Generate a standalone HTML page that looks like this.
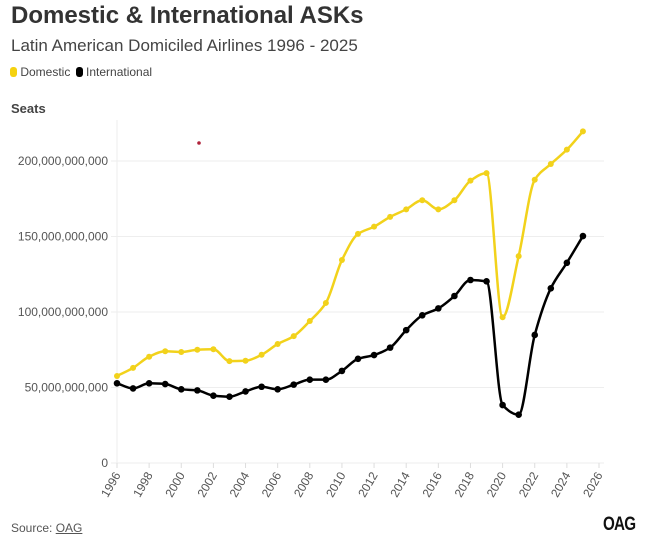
<!DOCTYPE html>
<html><head><meta charset="utf-8"><style>
body{margin:0;background:#fff;font-family:"Liberation Sans",sans-serif;}
#wrap{position:relative;width:664px;height:548px;overflow:hidden;}
.t{position:absolute;white-space:nowrap;}
</style></head><body>
<div id="wrap">
<div class="t" style="left:11px;top:2px;font-size:24px;font-weight:bold;color:#333;">Domestic &amp; International ASKs</div>
<div class="t" style="left:11px;top:36px;font-size:17px;color:#444;">Latin American Domiciled Airlines 1996 - 2025</div>
<div style="position:absolute;left:10px;top:65px;font-size:12px;color:#444;">
 <span><span style="display:inline-block;width:7px;height:10px;background:#f5d20f;border-radius:3px;vertical-align:-1px;"></span> Domestic</span>
 <span style="margin-left:2px;"><span style="display:inline-block;width:7px;height:10px;background:#000;border-radius:3px;vertical-align:-1px;"></span> International</span>
</div>
<div class="t" style="left:11px;top:101px;font-size:13px;font-weight:bold;color:#444;">Seats</div>
<svg id="chart" width="664" height="548" style="position:absolute;left:0;top:0;"></svg>
<div class="t" style="left:11px;top:521px;font-size:12px;color:#555;">Source: <span style="text-decoration:underline;">OAG</span></div>
<div class="t" style="left:603px;top:514px;font-size:19px;font-weight:bold;color:#111;letter-spacing:-1px;transform:scaleX(0.8);transform-origin:left;">OAG</div>
</div>
<script>
const years=[1996,1997,1998,1999,2000,2001,2002,2003,2004,2005,2006,2007,2008,2009,2010,2011,2012,2013,2014,2015,2016,2017,2018,2019,2020,2021,2022,2023,2024,2025];
const domestic=[57.6,63,70.4,74,73.5,75,75.3,67.5,67.7,71.7,78.8,84,94,106,134.4,151.7,156.5,163,168,174,168,174,187,192,96.5,137,187.6,198,207.5,219.6];
const international=[52.8,49.4,52.8,52.3,48.8,48.1,44.6,43.9,47.4,50.5,48.8,51.9,55.2,55.2,61,69,71.5,76.4,88,97.8,102.4,110.6,121.2,120.3,38.4,32,84.8,115.7,132.6,150.3];
const yTicks=[0,50,100,150,200];
const yTickLabels=["0","50,000,000,000","100,000,000,000","150,000,000,000","200,000,000,000"];
const xTicks=[1996,1998,2000,2002,2004,2006,2008,2010,2012,2014,2016,2018,2020,2022,2024,2026];

const NS="http://www.w3.org/2000/svg";
const svg=document.getElementById('chart');
const X0=117,X1=599,Y0=463,Y200=161;
const xs=y=>X0+(y-1996)*(X1-X0)/30;
const ys=v=>Y0-v*(Y0-Y200)/200;
function mk(tag,attrs){const e=document.createElementNS(NS,tag);for(const k in attrs)e.setAttribute(k,attrs[k]);svg.appendChild(e);return e;}

const ax=mk('line',{x1:X0,x2:X0,y1:120,y2:Y0,stroke:'#eee','stroke-width':1});


yTicks.forEach((v,i)=>{
 const g=mk('line',{x1:X0-6,x2:604,y1:ys(v),y2:ys(v),stroke:'#eee','stroke-width':1});
 
 
 const t=mk('text',{x:108,y:ys(v)+4,'text-anchor':'end','font-size':12,fill:'#555','font-family':'Liberation Sans, sans-serif'});
 t.textContent=yTickLabels[i];
 
 
});
xTicks.forEach(y=>{
 const tk=mk('line',{x1:xs(y),x2:xs(y),y1:Y0,y2:Y0+5,stroke:'#ddd'});
 
 
 const t=mk('text',{x:xs(y)+4,y:Y0+12,'text-anchor':'end','font-size':12,fill:'#555','font-family':'Liberation Sans, sans-serif',transform:`rotate(-60 ${xs(y)+4} ${Y0+12})`});
 t.textContent=y;
 
 
});

function monotonePath(px,py){
 const n=px.length,d=[],m=[];
 for(let i=0;i<n-1;i++)d.push((py[i+1]-py[i])/(px[i+1]-px[i]));
 m[0]=d[0];m[n-1]=d[n-2];
 for(let i=1;i<n-1;i++)m[i]=(d[i-1]*d[i]<=0)?0:3*(d[i-1]+d[i])/ (2*(d[i-1]/d[i]+d[i]/d[i-1])+2) ;
 for(let i=1;i<n-1;i++){if(d[i-1]*d[i]>0){const a=d[i-1],b=d[i];m[i]=2*a*b/(a+b);}}
 let s=`M${px[0]},${py[0]}`;
 for(let i=0;i<n-1;i++){const h=(px[i+1]-px[i])/3;
  s+=` C${px[i]+h},${py[i]+m[i]*h} ${px[i+1]-h},${py[i+1]-m[i+1]*h} ${px[i+1]},${py[i+1]}`;}
 return s;
}
function series(vals,color,name,r){
 const px=years.map(xs),py=vals.map(ys);
 const p=mk('path',{d:monotonePath(px,py),fill:'none',stroke:color,'stroke-width':2.5});
 
 
 vals.forEach((v,i)=>{
  const c=mk('circle',{cx:px[i],cy:py[i],r:r,fill:color});
  
  
 });
}
series(domestic,'#f2d21b','domestic',3);
series(international,'#000','international',3.3);
const rd=mk('circle',{cx:199,cy:143,r:1.8,fill:'#b0223a'});


</script>
</body></html>
